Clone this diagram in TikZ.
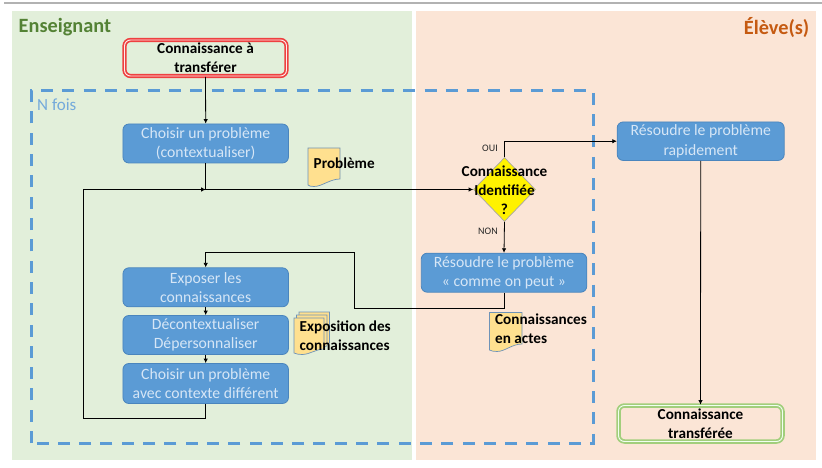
\documentclass[tikz,border=0pt]{standalone}
\usepackage{fontspec}
\setmainfont{Carlito}
\usetikzlibrary{arrows.meta,shapes.geometric,calc}
\definecolor{panelG}{HTML}{E2EFDA}
\definecolor{panelO}{HTML}{FBE5D6}
\definecolor{blueB}{HTML}{5B9BD5}
\definecolor{blueE}{HTML}{4A85BD}
\definecolor{blueT}{HTML}{D6E6F6}
\definecolor{docF}{HTML}{FFE08F}
\definecolor{docE}{HTML}{6E93B8}
\definecolor{greenT}{HTML}{548235}
\definecolor{orangeT}{HTML}{C55A11}
\definecolor{redE}{HTML}{EE4040}
\definecolor{greenE}{HTML}{A2CE7C}
\tikzset{
  x=1pt,y=-1pt,
  procbox/.style={draw=blueE,fill=blueB,line width=0.8pt,rounded corners=6pt,minimum width=165.5pt,inner sep=0pt,align=center,text=blueT,font=\fontsize{15.7}{19.3}\selectfont},
  startbox/.style={draw=redE,double=white!70!pink,double distance=0.9pt,line width=1.7pt,rounded corners=6pt,minimum width=162pt,minimum height=36pt,inner sep=0pt,align=center,font=\fontsize{15.2}{19.3}\selectfont\bfseries},
  endbox/.style={draw=greenE,double=white!70!green!20,double distance=0.9pt,line width=1.8pt,rounded corners=6pt,minimum width=164pt,minimum height=36pt,inner sep=0pt,align=center,font=\fontsize{15.2}{19.3}\selectfont\bfseries},
  flow/.style={draw=black,line width=0.8pt,-{Latex[length=4.5pt,width=4.5pt]}},
  flowline/.style={draw=black,line width=0.8pt},
  doclabel/.style={align=left,inner sep=0pt,anchor=west,font=\fontsize{15.2}{19.3}\selectfont\bfseries},
  docshape/.style={draw=docE,fill=docF,line width=0.7pt},
  tinylabel/.style={inner sep=0pt,font=\fontsize{10}{11}\selectfont,text=black!85},
}
\begin{document}
\begin{tikzpicture}
\useasboundingbox (0,0) rectangle (822,468);
\fill[white] (0,0) rectangle (822,468);
\draw[line width=1.6pt,draw=black!30] (4,3) -- (822,3);
\fill[panelG] (12,11) rectangle (412,460);
\fill[panelO] (416,11) rectangle (816,460);
\node[text=greenT,anchor=west,inner sep=0pt,font=\fontsize{20.3}{22}\selectfont\bfseries] (tEns) at (18.5,27.5) {Enseignant};
\node[text=orangeT,anchor=east,inner sep=0pt,font=\fontsize{20.3}{22}\selectfont\bfseries] (tElv) at (809.5,27.5) {Élève(s)};
\draw[blueB,line width=3pt,dash pattern=on 12pt off 9.3pt] (31,443) -- (31,91) -- (593,91) -- (593,443) -- cycle;
\node[text=blueB!85!white,anchor=west,inner sep=0pt,font=\fontsize{17}{18}\selectfont] (tN) at (37,104.5) {N fois};
% documents
\draw[docshape] (308,148) -- (340,148) -- (340,179) .. controls (330,179) and (322,186.5) .. (314,186.5) .. controls (311,186.5) and (309,186) .. (308,185) -- cycle;
\draw[docshape] (299,312) -- (329.5,312) -- (329.5,343) -- (299,350) -- cycle;
\draw[docshape] (296.5,315) -- (327,315) -- (327,346) -- (296.5,352) -- cycle;
\draw[docshape] (294,318) -- (324,318) -- (324,349) .. controls (316,349) and (310,354.5) .. (302,354.5) .. controls (299,354.5) and (296,354) .. (294,353) -- cycle;
\draw[docshape] (489.5,312.5) -- (522,312.5) -- (522,344) .. controls (512,344) and (505,351.5) .. (497,351.5) .. controls (494,351.5) and (491,351) .. (489.5,350) -- cycle;
% boxes
\node[startbox] (start) at (205.5,58) {\raisebox{-2.5pt}{\parbox{150pt}{\centering Connaissance à\\transférer}}};
\node[procbox,minimum height=39pt] (c1) at (205.7,143.5) {Choisir un problème\\(contextualiser)};
\node[procbox,minimum height=39pt] (e1) at (205.7,287.3) {Exposer les\\connaissances};
\node[procbox,minimum height=39pt] (e2) at (205.7,335) {Décontextualiser\\Dépersonnaliser};
\node[procbox,minimum height=40pt] (e3) at (205.7,383.5) {Choisir un problème\\avec contexte différent};
\node[procbox,minimum height=39pt] (r1) at (504,272.7) {Résoudre le problème\\« comme on peut »};
\node[procbox,minimum height=38.5pt,minimum width=167pt] (r2) at (700.7,141.2) {Résoudre le problème\\rapidement};
\node[endbox] (fin) at (700.5,423.5) {Connaissance\\transférée};
\node[diamond,draw=gray!70,fill=yellow,line width=0.7pt,minimum width=62pt,minimum height=64pt,inner sep=0pt] (dia) at (504.5,189.5) {};
\node[align=center,inner sep=0pt,font=\fontsize{15.2}{19}\selectfont\bfseries] (diaT) at (504.5,190.5) {Connaissance\\Identifiée\\?};
% labels
\node[doclabel] (lp) at (313.5,163) {Problème};
\node[doclabel] (lx) at (299.5,335.5) {Exposition des\\connaissances};
\node[doclabel] (la) at (495,329) {Connaissances\\en actes};
\node[tinylabel] (oui) at (490,148.5) {OUI};
\node[tinylabel] (non) at (488,231) {NON};
% connectors
\coordinate (jn) at (205.7,189.5);
\coordinate (lp1) at (83,418.5);
\coordinate (back1) at (354.5,308);
\coordinate (back2) at (205.7,252.5);
\draw[flow] (start.south) -- (c1.north);
\draw[flowline] (c1.south) -- (jn);
\draw[flow] (jn) -- (dia.west);
\draw[flow] (dia.north) |- (r2.west);
\draw[flow] (dia.south) -- (r1.north);
\draw[flow] (r2.south) -- (fin.north);
\draw[flow] (e1.south) -- (e2.north);
\draw[flow] (e2.south) -- (e3.north);
\draw[flow] (e3.south) |- (lp1) |- (jn);
\draw[flow] (r1.south) |- (back1) |- (back2) -- (e1.north);
\end{tikzpicture}
\end{document}
